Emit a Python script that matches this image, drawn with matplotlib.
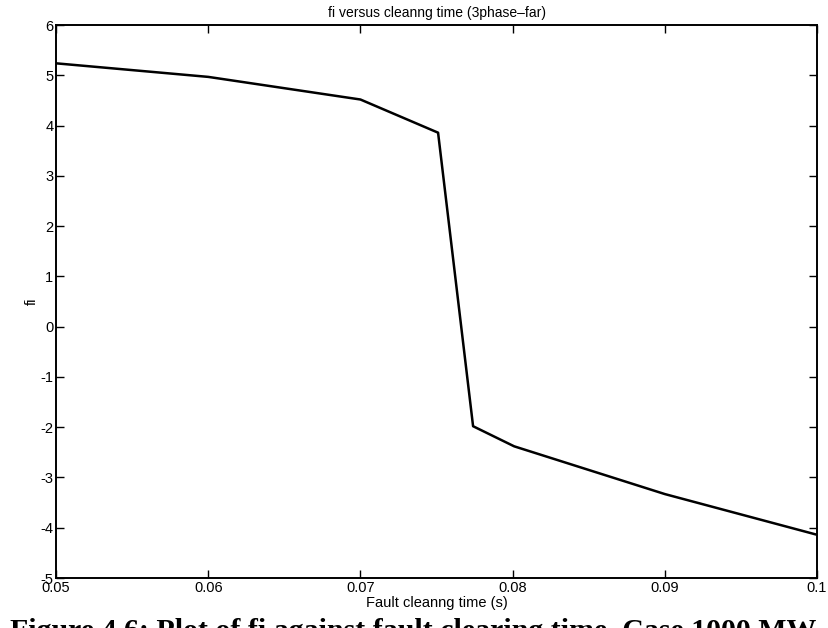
import matplotlib
matplotlib.use("Agg")
import matplotlib.pyplot as plt
from matplotlib.ticker import MultipleLocator

# fi against fault clearing time, 3-phase fault at the far end
clearing_time = [0.05, 0.06, 0.07, 0.0751, 0.0774, 0.0801, 0.09, 0.1]
fi = [5.24, 4.97, 4.52, 3.86, -1.98, -2.38, -3.33, -4.14]

x_ticks = [0.05, 0.06, 0.07, 0.08, 0.09, 0.1]
x_tick_labels = ["0.05", "0.06", "0.07", "0.08", "0.09", "0.1"]

plt.rcParams['font.family'] = ['Liberation Sans', 'DejaVu Sans']
plt.rcParams['axes.unicode_minus'] = False

fig = plt.figure(figsize=(8.29, 6.28), dpi=100)
ax = fig.add_axes([0.0676, 0.0796, 0.918, 0.8804])

ax.plot(clearing_time, fi, color="black", linewidth=1.8)

ax.set_xlim(0.05, 0.1)
ax.set_ylim(-5, 6)
ax.set_xticks(x_ticks)
ax.set_xticklabels(x_tick_labels)
ax.yaxis.set_major_locator(MultipleLocator(1))
ax.tick_params(direction="in", top=True, right=True, length=6, width=1,
               labelsize=10.5, pad=2)
for s in ax.spines.values():
    s.set_linewidth(1.4)

ax.set_title("fi versus cleanng time (3phase\u2013far)", fontsize=10, pad=6)
ax.set_xlabel("Fault cleanng time (s)", fontsize=10.5, labelpad=1)
ax.set_ylabel("fi", fontsize=10.5, labelpad=1)

# caption of the page, cut by the lower edge
fig.text(0.012, -0.018, "Figure 4.6: Plot of fi against fault clearing time, Case 1000 MW",
         fontsize=21.5, fontweight="bold", family="Liberation Serif", va="baseline")

fig.savefig("out.png", dpi=100)
